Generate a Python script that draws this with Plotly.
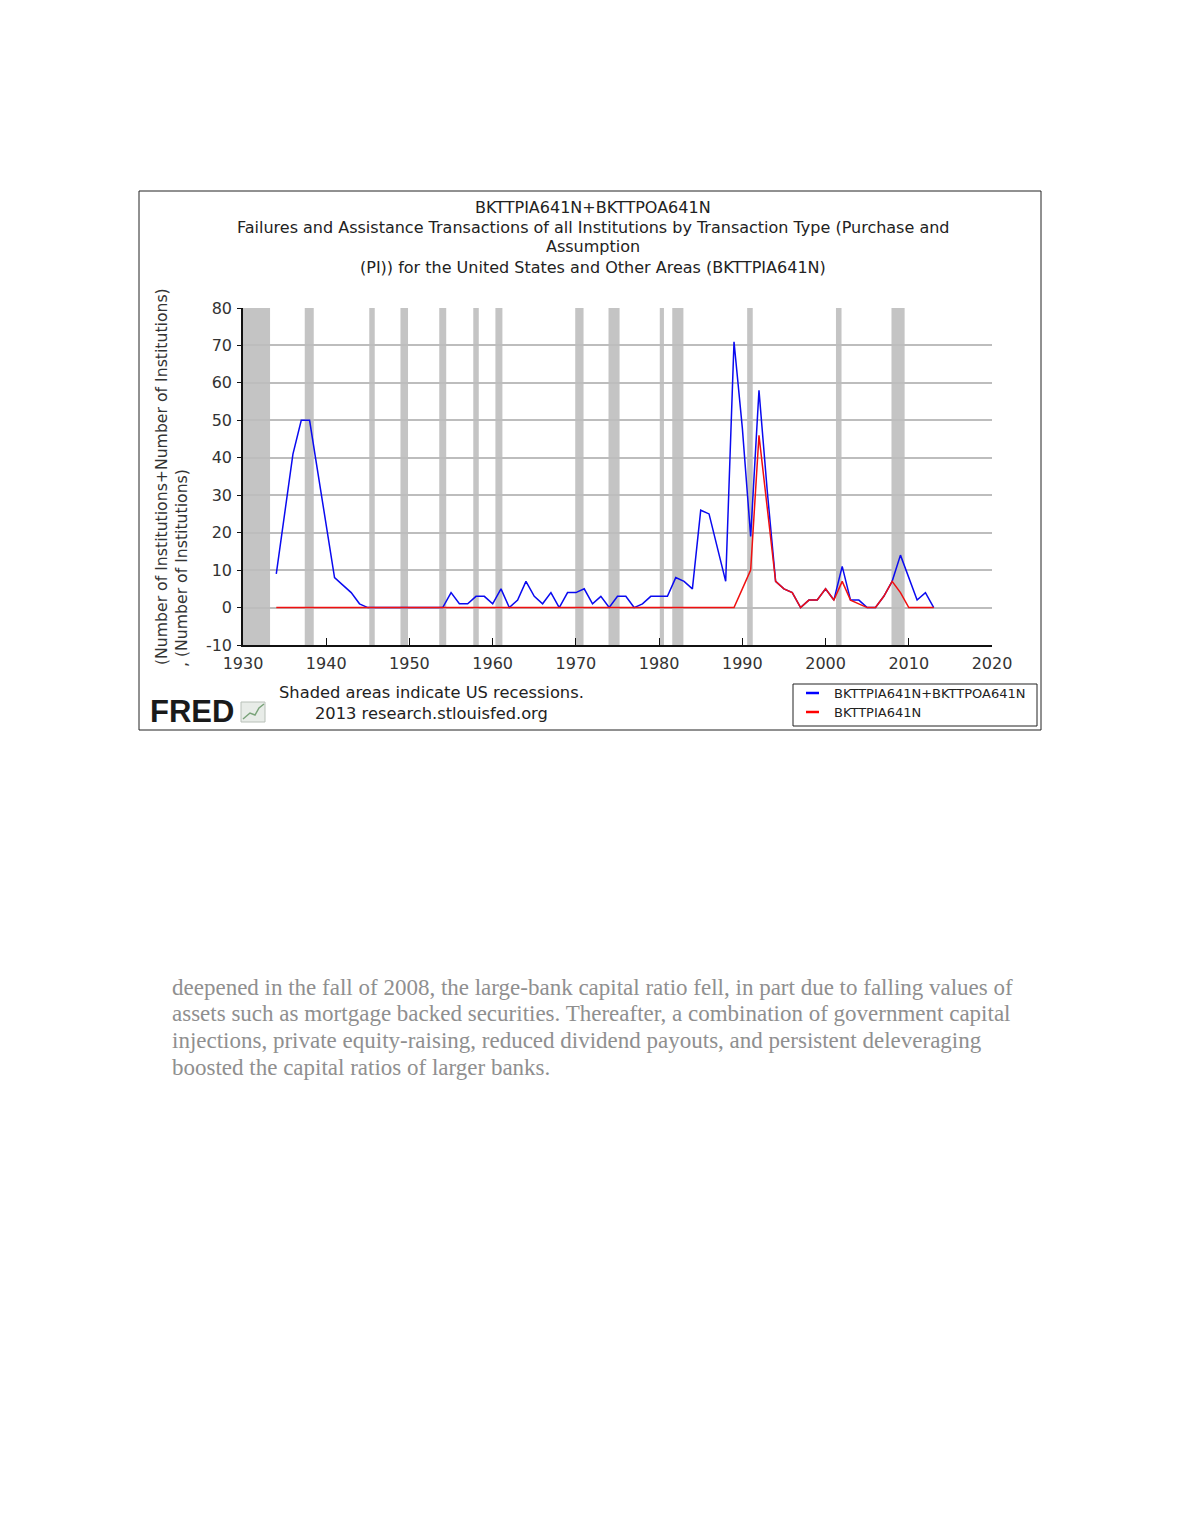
import plotly.graph_objects as go

# annual values
years = list(range(1934, 2014))

total_pa = [
    9, 25, 41, 50, 50, 36, 22, 8, 6, 4,          # 1934-1943
    1, 0, 0, 0, 0, 0, 0, 0, 0, 0,                # 1944-1953
    0, 4, 1, 1, 3, 3, 1, 5, 0, 2,                # 1954-1963
    7, 3, 1, 4, 0, 4, 4, 5, 1, 3,                # 1964-1973
    0, 3, 3, 0, 1, 3, 3, 3, 8, 7,                # 1974-1983
    5, 26, 25, 16, 7, 71, 48, 19, 58, 31,        # 1984-1993
    7, 5, 4, 0, 2, 2, 5, 2, 11, 2,               # 1994-2003
    2, 0, 0, 3, 7, 14, 8, 2, 4, 0,               # 2004-2013
]

pi_only = [0] * 56 + [                           # 1934-1989
    5, 10, 46, 27,                               # 1990-1993
    7, 5, 4, 0, 2, 2, 5, 2, 7, 2,                # 1994-2003
    1, 0, 0, 3, 7, 4, 0, 0, 0, 0,                # 2004-2013
]

rec_start = [1929.67, 1937.42, 1945.17, 1948.92, 1953.58, 1957.67, 1960.33,
             1969.92, 1973.92, 1980.08, 1981.58, 1990.58, 2001.25, 2007.92]
rec_end = [1933.25, 1938.5, 1945.83, 1949.83, 1954.42, 1958.33, 1961.17,
           1970.92, 1975.25, 1980.58, 1982.92, 1991.25, 2001.92, 2009.5]

y_ticks = [-10, 0, 10, 20, 30, 40, 50, 60, 70, 80]
y_labels = ["-10", "0", "10", "20", "30", "40", "50", "60", "70", "80"]

# the page puts an 8px body margin around the figure
OFF = 8
W, H = 1180 - 2 * OFF, 1527 - 2 * OFF
PL, PR, PT, PB = 243, 992, 308, 645   # plot area in reference pixels


def px(x):
    return (x - PL) / (PR - PL)


def py(y):
    return (PB - y) / (PB - PT)


FONT = "DejaVu Sans"

fig = go.Figure()
fig.add_trace(go.Scatter(x=years, y=total_pa, mode="lines",
                         line=dict(color="#0a0af0", width=1.5),
                         name="BKTTPIA641N+BKTTPOA641N"))
fig.add_trace(go.Scatter(x=years, y=pi_only, mode="lines",
                         line=dict(color="#f01010", width=1.5),
                         name="BKTTPIA641N"))

shapes = []
for s, e in zip(rec_start, rec_end):
    shapes.append(dict(type="rect", xref="x", yref="paper",
                       x0=max(s, 1930), x1=e, y0=0, y1=1,
                       fillcolor="#c4c4c4", line_width=0, layer="below"))

# outer frame of the FRED graphic
shapes.append(dict(type="rect", xref="paper", yref="paper",
                   x0=px(139), x1=px(1041), y0=py(730), y1=py(191),
                   line=dict(color="#222222", width=1)))
# legend box
shapes.append(dict(type="rect", xref="paper", yref="paper",
                   x0=px(793), x1=px(1037), y0=py(726), y1=py(684),
                   line=dict(color="#222222", width=1)))
shapes.append(dict(type="line", xref="paper", yref="paper",
                   x0=px(806), x1=px(819), y0=py(693), y1=py(693),
                   line=dict(color="#0000ff", width=2.5)))
shapes.append(dict(type="line", xref="paper", yref="paper",
                   x0=px(806), x1=px(819), y0=py(712), y1=py(712),
                   line=dict(color="#ff0000", width=2.5)))
# little chart icon next to the FRED logo
shapes.append(dict(type="rect", xref="paper", yref="paper",
                   x0=px(241), x1=px(265), y0=py(722), y1=py(702),
                   fillcolor="#e8ece8", line=dict(color="#b8c0b8", width=1)))
shapes.append(dict(type="path", xref="paper", yref="paper",
                   path="M {} {} L {} {} L {} {} L {} {} L {} {}".format(
                       px(243), py(719), px(250), py(713), px(255), py(715),
                       px(259), py(708), px(264), py(704)),
                   line=dict(color="#7aa37a", width=1.5)))

annotations = []
title_lines = [
    (207, "BKTTPIA641N+BKTTPOA641N"),
    (227, "Failures and Assistance Transactions of all Institutions by Transaction Type (Purchase and"),
    (246, "Assumption"),
    (267, "(PI)) for the United States and Other Areas (BKTTPIA641N)"),
]
for y, t in title_lines:
    annotations.append(dict(text=t, x=px(593), y=py(y), xref="paper", yref="paper",
                            showarrow=False, xanchor="center", yanchor="middle",
                            font=dict(family=FONT, size=16, color="#222222")))

annotations.append(dict(text="(Number of Institutions+Number of Institutions)",
                        x=px(161), y=py(477), xref="paper", yref="paper",
                        showarrow=False, textangle=-90,
                        xanchor="center", yanchor="middle",
                        font=dict(family=FONT, size=15.7, color="#333333")))
annotations.append(dict(text=", (Number of Institutions)",
                        x=px(181), y=py(568), xref="paper", yref="paper",
                        showarrow=False, textangle=-90,
                        xanchor="center", yanchor="middle",
                        font=dict(family=FONT, size=15.7, color="#333333")))

annotations.append(dict(text="Shaded areas indicate US recessions.",
                        x=px(431), y=py(692), xref="paper", yref="paper",
                        showarrow=False, xanchor="center", yanchor="middle",
                        font=dict(family=FONT, size=16.3, color="#222222")))
annotations.append(dict(text="2013 research.stlouisfed.org",
                        x=px(431), y=py(713), xref="paper", yref="paper",
                        showarrow=False, xanchor="center", yanchor="middle",
                        font=dict(family=FONT, size=16.3, color="#222222")))
annotations.append(dict(text="<b>FRED</b>",
                        x=px(148), y=py(711), xref="paper", yref="paper",
                        showarrow=False, xanchor="left", yanchor="middle",
                        font=dict(family="Liberation Sans", size=31, color="#1a1a1a")))

for y, t in [(693, "BKTTPIA641N+BKTTPOA641N"), (712, "BKTTPIA641N")]:
    annotations.append(dict(text=t, x=px(832), y=py(y), xref="paper", yref="paper",
                            showarrow=False, xanchor="left", yanchor="middle",
                            font=dict(family=FONT, size=13, color="#222222")))

# paragraph under the chart (blurred in the source page)
para = [
    (987, "deepened in the fall of 2008, the large-bank capital ratio fell, in part due to falling values of"),
    (1013, "assets such as mortgage backed securities. Thereafter, a combination of government capital"),
    (1040, "injections, private equity-raising, reduced dividend payouts, and persistent deleveraging"),
    (1067, "boosted the capital ratios of larger banks."),
]
for y, t in para:
    annotations.append(dict(text=t, x=px(170), y=py(y), xref="paper", yref="paper",
                            showarrow=False, xanchor="left", yanchor="middle",
                            font=dict(family="Liberation Serif", size=23, color="#8f8f8f")))

fig.update_layout(
    width=W, height=H,
    margin=dict(l=PL - OFF, r=W - (PR - OFF), t=PT - OFF, b=H - (PB - OFF), pad=0),
    paper_bgcolor="white", plot_bgcolor="white",
    showlegend=False,
    shapes=shapes, annotations=annotations,
    font=dict(family=FONT, size=16, color="#333333"),
)
fig.update_xaxes(range=[1930, 2020], tickmode="linear", tick0=1930, dtick=10,
                 showgrid=False, zeroline=False,
                 showline=True, linecolor="#111111", linewidth=1.5,
                 ticks="inside", ticklen=7, tickcolor="#111111",
                 ticklabelstandoff=3,
                 tickfont=dict(family=FONT, size=16, color="#333333"))
fig.update_yaxes(range=[-10, 80], tickmode="array", tickvals=y_ticks, ticktext=y_labels,
                 showgrid=True, gridcolor="#bdbdbd", gridwidth=1.5,
                 zeroline=False,
                 showline=True, linecolor="#111111", linewidth=1.5,
                 ticks="outside", ticklen=4, tickcolor="#111111",
                 ticklabelstandoff=2,
                 tickfont=dict(family=FONT, size=16, color="#333333"))

fig.write_html("out.html")
